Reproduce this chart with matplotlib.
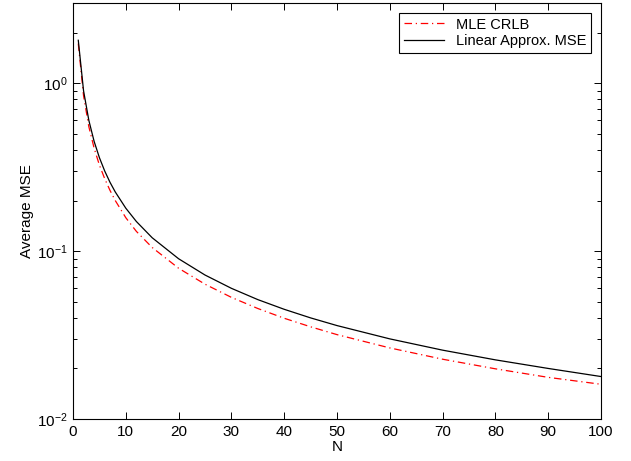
import matplotlib
matplotlib.use("Agg")
import matplotlib.pyplot as plt
from matplotlib.ticker import LogLocator, NullFormatter

plt.rcParams["font.family"] = ["Liberation Sans", "DejaVu Sans"]
plt.rcParams["mathtext.fontset"] = "custom"
plt.rcParams["mathtext.rm"] = "Liberation Sans"

# values
n_vals = [1, 2, 3, 4, 5, 6, 7, 8, 10, 12, 15, 20, 25, 30, 35, 40, 45, 50,
          60, 70, 80, 90, 100]
mle_crlb = [1.72, 0.84, 0.55, 0.41, 0.325, 0.27, 0.230, 0.200, 0.158, 0.131,
            0.105, 0.079, 0.0635, 0.053, 0.0455, 0.0398, 0.0354, 0.0318,
            0.0265, 0.0227, 0.0199, 0.0177, 0.0161]
linear_mse = [1.80, 0.90, 0.60, 0.45, 0.36, 0.30, 0.257, 0.225, 0.180, 0.150,
              0.120, 0.090, 0.072, 0.060, 0.0514, 0.045, 0.040, 0.036,
              0.030, 0.0257, 0.0225, 0.020, 0.0179]

fig = plt.figure(figsize=(6.31, 4.61), dpi=100)
ax = fig.add_axes([73 / 631, 1 - 419 / 461, (601 - 73) / 631, (419 - 3) / 461])

ax.semilogy(n_vals, mle_crlb, color="red", lw=0.9,
            linestyle=(0, (6, 3, 1, 3)), label="MLE CRLB")
ax.semilogy(n_vals, linear_mse, color="black", lw=0.9,
            label="Linear Approx. MSE")

ax.set_xlim(0, 100)
ax.set_ylim(0.01, 3)
ax.set_xticks(range(0, 101, 10))
ax.yaxis.set_major_locator(LogLocator(base=10, numticks=5))
ax.yaxis.set_minor_locator(LogLocator(base=10, subs=range(2, 10), numticks=20))
ax.yaxis.set_minor_formatter(NullFormatter())

ax.tick_params(which="both", direction="in", top=True, right=True,
               labelsize=11, width=0.7)
ax.tick_params(which="major", length=5, pad=4)
ax.tick_params(which="minor", length=3)
for s in ax.spines.values():
    s.set_linewidth(0.8)

ax.set_xlabel("N", fontsize=11, labelpad=1)
ax.set_ylabel("Average MSE", fontsize=11, labelpad=2)

leg = ax.legend(loc="upper right", fontsize=10.5, fancybox=False,
                edgecolor="black", framealpha=1, borderpad=0.3,
                handlelength=2.8, labelspacing=0.2, borderaxespad=0.7)
leg.get_frame().set_linewidth(0.8)

fig.savefig("out.png", dpi=100)
